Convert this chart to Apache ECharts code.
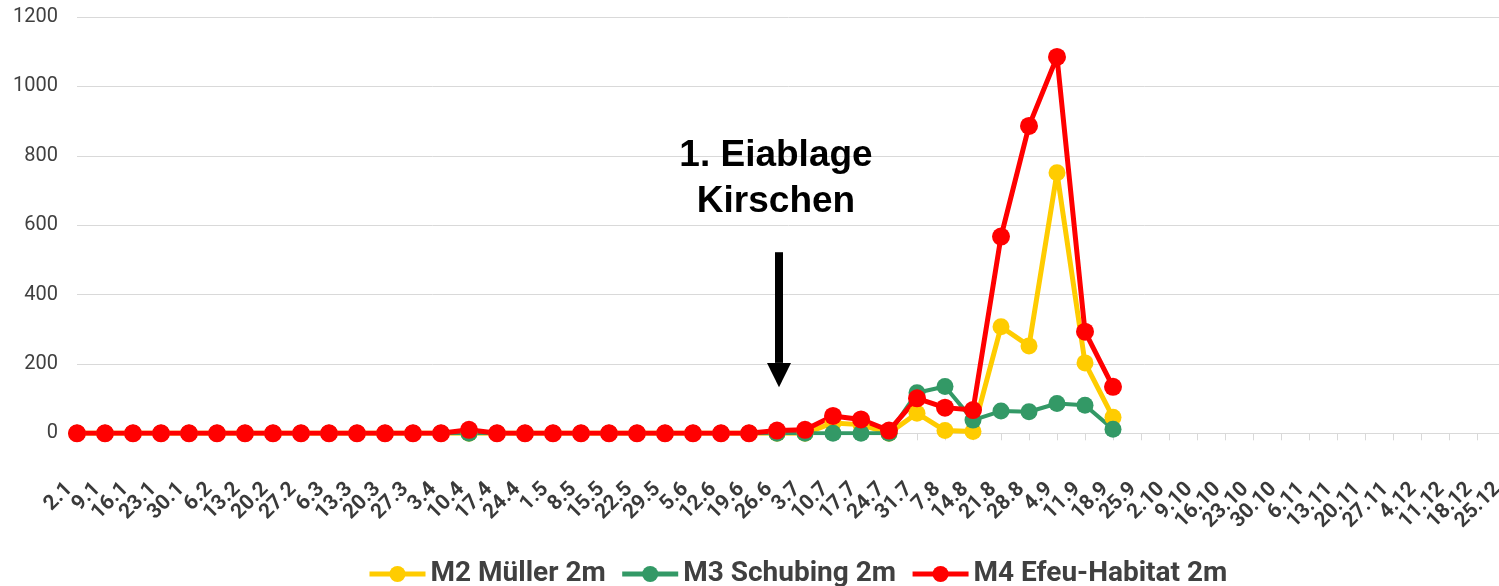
<!DOCTYPE html>
<html>
<head>
<meta charset="utf-8">
<script src="https://cdn.jsdelivr.net/npm/echarts@6/dist/echarts.min.js"></script>
<style>
html,body{margin:0;padding:0;background:#fff;}
#chart{width:1499px;height:586px;}
</style>
</head>
<body>
<div id="chart"></div>
<script>
const categories = ['2.1','9.1','16.1','23.1','30.1','6.2','13.2','20.2','27.2','6.3','13.3','20.3','27.3','3.4','10.4','17.4','24.4','1.5','8.5','15.5','22.5','29.5','5.6','12.6','19.6','26.6','3.7','10.7','17.7','24.7','31.7','7.8','14.8','21.8','28.8','4.9','11.9','18.9','25.9','2.10','9.10','16.10','23.10','30.10','6.11','13.11','20.11','27.11','4.12','11.12','18.12','25.12'];
const m2Mueller = [0,0,0,0,0,0,0,0,0,0,0,0,0,0,0,0,0,0,0,0,0,0,0,0,0,0,0,30,25,0,58,8,5,307,252,751,203,46];
const m3Schubing = [0,0,0,0,0,0,0,0,0,0,0,0,0,0,0,0,0,0,0,0,0,0,0,0,0,0,0,0,0,0,117,135,38,64,62,86,81,12];
const m4Efeu = [0,0,0,0,0,0,0,0,0,0,0,0,0,0,10,0,0,0,0,0,0,0,0,0,0,8,10,50,40,8,101,74,67,567,886,1085,293,134];
const yTicks = {min:0, max:1200, interval:200};
const seriesNames = ['M2 Müller 2m','M3 Schubing 2m','M4 Efeu-Habitat 2m'];
const colors = ['#FFCC00','#339966','#FF0000'];

const chart = echarts.init(document.getElementById('chart'));
const txt = '#404040';
function line(name, data, color, width, size){
  return {name, type:'line', data, symbol:'circle', symbolSize:size,
    lineStyle:{color, width}, itemStyle:{color}, emphasis:{disabled:true}, animation:false};
}
chart.setOption({
  animation:false,
  grid:{left:77, width:1428, top:17, bottom:152.7, containLabel:false, outerBoundsMode:'none'},
  xAxis:{type:'category', data:categories, boundaryGap:false,
    axisLine:{lineStyle:{color:'#d9d9d9', width:1}},
    axisTick:{show:true, length:7, lineStyle:{color:'#d9d9d9'}, interval:0},
    axisLabel:{interval:0, rotate:45, margin:45, padding:[0,11,0,0], color:'#3a3a3a', fontFamily:'Roboto', fontWeight:'bold', fontSize:21}},
  yAxis:{type:'value', min:yTicks.min, max:yTicks.max, interval:yTicks.interval,
    axisLine:{show:false}, axisTick:{show:false},
    splitLine:{lineStyle:{color:'#d9d9d9', width:1}},
    axisLabel:{margin:19, color:txt, fontFamily:'Roboto', fontSize:20, formatter: v => String(v)}},
  legend:{left:362, top:555, itemWidth:56, itemHeight:20, itemGap:14,
    data: seriesNames.map((n,i)=>({name:n, lineStyle:{width:5, color:colors[i]}, itemStyle:{color:colors[i]}})),
    textStyle:{color:txt, fontFamily:'Roboto', fontWeight:'bold', fontSize:28}},
  series:[
    line(seriesNames[0], m2Mueller, colors[0], 5, 17),
    line(seriesNames[1], m3Schubing, colors[1], 4, 17),
    line(seriesNames[2], m4Efeu, colors[2], 5, 18)
  ]
});

// annotation anchored to axes
const ax = chart.convertToPixel({xAxisIndex:0}, 25);
const py = v => chart.convertToPixel({yAxisIndex:0}, v);
const yTop = py(522), yBase = py(203), yTip = py(133);
const axc = ax + 2;
chart.setOption({graphic:[
  {type:'rect', shape:{x:axc-4, y:yTop, width:8, height:yBase-yTop}, style:{fill:'#000'}, silent:true},
  {type:'polygon', shape:{points:[[axc-12,yBase],[axc+12,yBase],[axc,yTip]]}, style:{fill:'#000'}, silent:true},
  {type:'text', x:ax-1, y:py(800), style:{text:'1. Eiablage', fill:'#000', font:'bold 37px "Liberation Sans", Arial', align:'center', verticalAlign:'middle'}, silent:true},
  {type:'text', x:ax-1, y:py(666), style:{text:'Kirschen', fill:'#000', font:'bold 37px "Liberation Sans", Arial', align:'center', verticalAlign:'middle'}, silent:true}
]});
</script>
</body>
</html>
